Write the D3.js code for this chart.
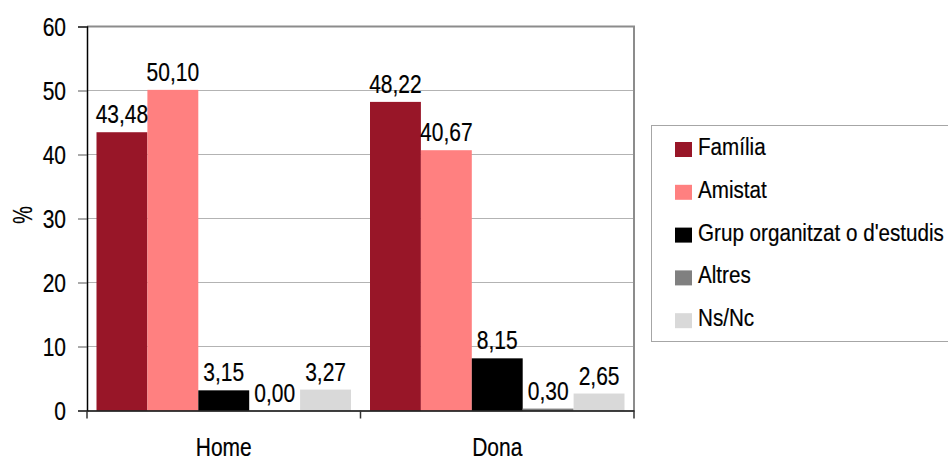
<!DOCTYPE html>
<html><head><meta charset="utf-8">
<script src="https://cdn.jsdelivr.net/npm/d3@7"></script>
<style>
html,body{margin:0;padding:0;background:#fff;}
svg{display:block;font-family:"Liberation Sans",Arial,sans-serif;}
svg text{stroke:#000;stroke-width:0.2px;}
</style></head>
<body>
<svg id="chart" width="948" height="460"></svg>
<script>
const categories = ["Home", "Dona"];
const seriesNames = ["Família", "Amistat", "Grup organitzat o d'estudis", "Altres", "Ns/Nc"];
const seriesColors = ["#981628", "#ff8080", "#000000", "#808080", "#d9d9d9"];
const valuesHome = [43.48, 50.10, 3.15, 0.00, 3.27];
const valuesDona = [48.22, 40.67, 8.15, 0.30, 2.65];
const yTicks = [0, 10, 20, 30, 40, 50, 60];
const yLabel = "%";

(function () {
const fmt = v => v.toFixed(2).replace(".", ",");
const SX = 0.84;
const FS = 25;

const svg = d3.select("#chart");
const pLeft = 87, pRight = 634, pTop = 26.5, pBottom = 410.5;

const y = d3.scaleLinear().domain([0, 60]).range([pBottom, pTop]);
const x0 = d3.scaleBand().domain(categories).range([pLeft, pRight]).padding(0);
const x1 = d3.scaleBand().domain(seriesNames).range([9.5, x0.bandwidth() - 9.5]).padding(0);

const data = categories.map((c, i) => ({cat: c, vals: (i === 0 ? valuesHome : valuesDona)}));

// gridlines
svg.append("g").selectAll("line").data(yTicks.filter(t => t > 0 && t < 60)).join("line")
  .attr("x1", pLeft).attr("x2", pRight)
  .attr("y1", d => y(d)).attr("y2", d => y(d))
  .attr("stroke", "#b3b3b3").attr("stroke-width", 1);
// top and right border
svg.append("line").attr("x1", pLeft).attr("x2", pRight + 1).attr("y1", y(60)).attr("y2", y(60))
  .attr("stroke", "#8c8c8c").attr("stroke-width", 2);
svg.append("line").attr("x1", pRight).attr("x2", pRight).attr("y1", y(60)).attr("y2", pBottom)
  .attr("stroke", "#8c8c8c").attr("stroke-width", 2);

// bars
const groups = svg.append("g").selectAll("g").data(data).join("g")
  .attr("transform", d => `translate(${x0(d.cat)},0)`);
groups.selectAll("rect").data(d => d.vals.map((v, i) => ({name: seriesNames[i], v, i}))).join("rect")
  .attr("x", d => x1(d.name)).attr("width", x1.bandwidth())
  .attr("y", d => y(d.v)).attr("height", d => pBottom - y(d.v))
  .attr("fill", d => seriesColors[d.i]);
groups.selectAll("text").data(d => d.vals.map((v, i) => ({name: seriesNames[i], v, i}))).join("text")
  .attr("transform", d => `translate(${x1(d.name) + x1.bandwidth() / 2},${y(d.v) - 9}) scale(${SX},1)`)
  .attr("text-anchor", "middle").attr("font-size", FS).attr("fill", "#000")
  .text(d => fmt(d.v));

// y axis
const yAxis = svg.append("g").attr("transform", `translate(${pLeft},0)`)
  .call(d3.axisLeft(y).tickValues(yTicks).tickSize(9).tickPadding(12).tickFormat(d3.format("d")));
yAxis.select(".domain").attr("stroke", "#000").attr("stroke-width", 1.5);
yAxis.selectAll(".tick line").attr("stroke", "#555");
yAxis.selectAll(".tick text").attr("font-size", FS).attr("font-family", "Liberation Sans, Arial, sans-serif")
  .attr("fill", "#000").attr("x", -21 / SX).attr("transform", `scale(${SX},1)`).attr("dy", "0.36em");

// x axis
const xAxis = svg.append("g").attr("transform", `translate(0,${pBottom})`)
  .call(d3.axisBottom(x0).tickSize(0).tickPadding(0).tickFormat(""));
xAxis.select(".domain").attr("stroke", "#000").attr("stroke-width", 1.5);
xAxis.selectAll(".tick").remove();
const xTickPos = [pLeft].concat(categories.map(c => x0(c) + x0.bandwidth()));
xAxis.selectAll("line.sep").data(xTickPos).join("line").attr("class", "sep")
  .attr("x1", d => d).attr("x2", d => d).attr("y1", 0).attr("y2", 8)
  .attr("stroke", "#333").attr("stroke-width", 1.5);
svg.append("g").selectAll("text").data(categories).join("text")
  .attr("transform", d => `translate(${x0(d) + x0.bandwidth() / 2},456) scale(${SX},1)`)
  .attr("text-anchor", "middle").attr("font-size", FS).attr("fill", "#000").text(d => d);

// y label
svg.append("text").attr("transform", "translate(32,215) rotate(-90) scale(0.72,1)")
  .attr("text-anchor", "middle").attr("font-size", 28).attr("fill", "#000").text(yLabel);

// legend
const lg = svg.append("g");
lg.append("rect").attr("x", 651.5).attr("y", 125.5).attr("width", 320).attr("height", 216)
  .attr("fill", "#fff").attr("stroke", "#a6a6a6").attr("stroke-width", 1);
const items = lg.selectAll("g.item").data(seriesNames).join("g").attr("class", "item")
  .attr("transform", (d, i) => `translate(0,${155 + i * 42.8})`);
items.append("rect").attr("x", 675).attr("y", -13).attr("width", 17).attr("height", 15)
  .attr("fill", (d, i) => seriesColors[i]);
items.append("text").attr("transform", `translate(698,0) scale(0.86,1)`)
  .attr("font-size", 24).attr("fill", "#000").text(d => d);
})();
</script>
</body></html>
